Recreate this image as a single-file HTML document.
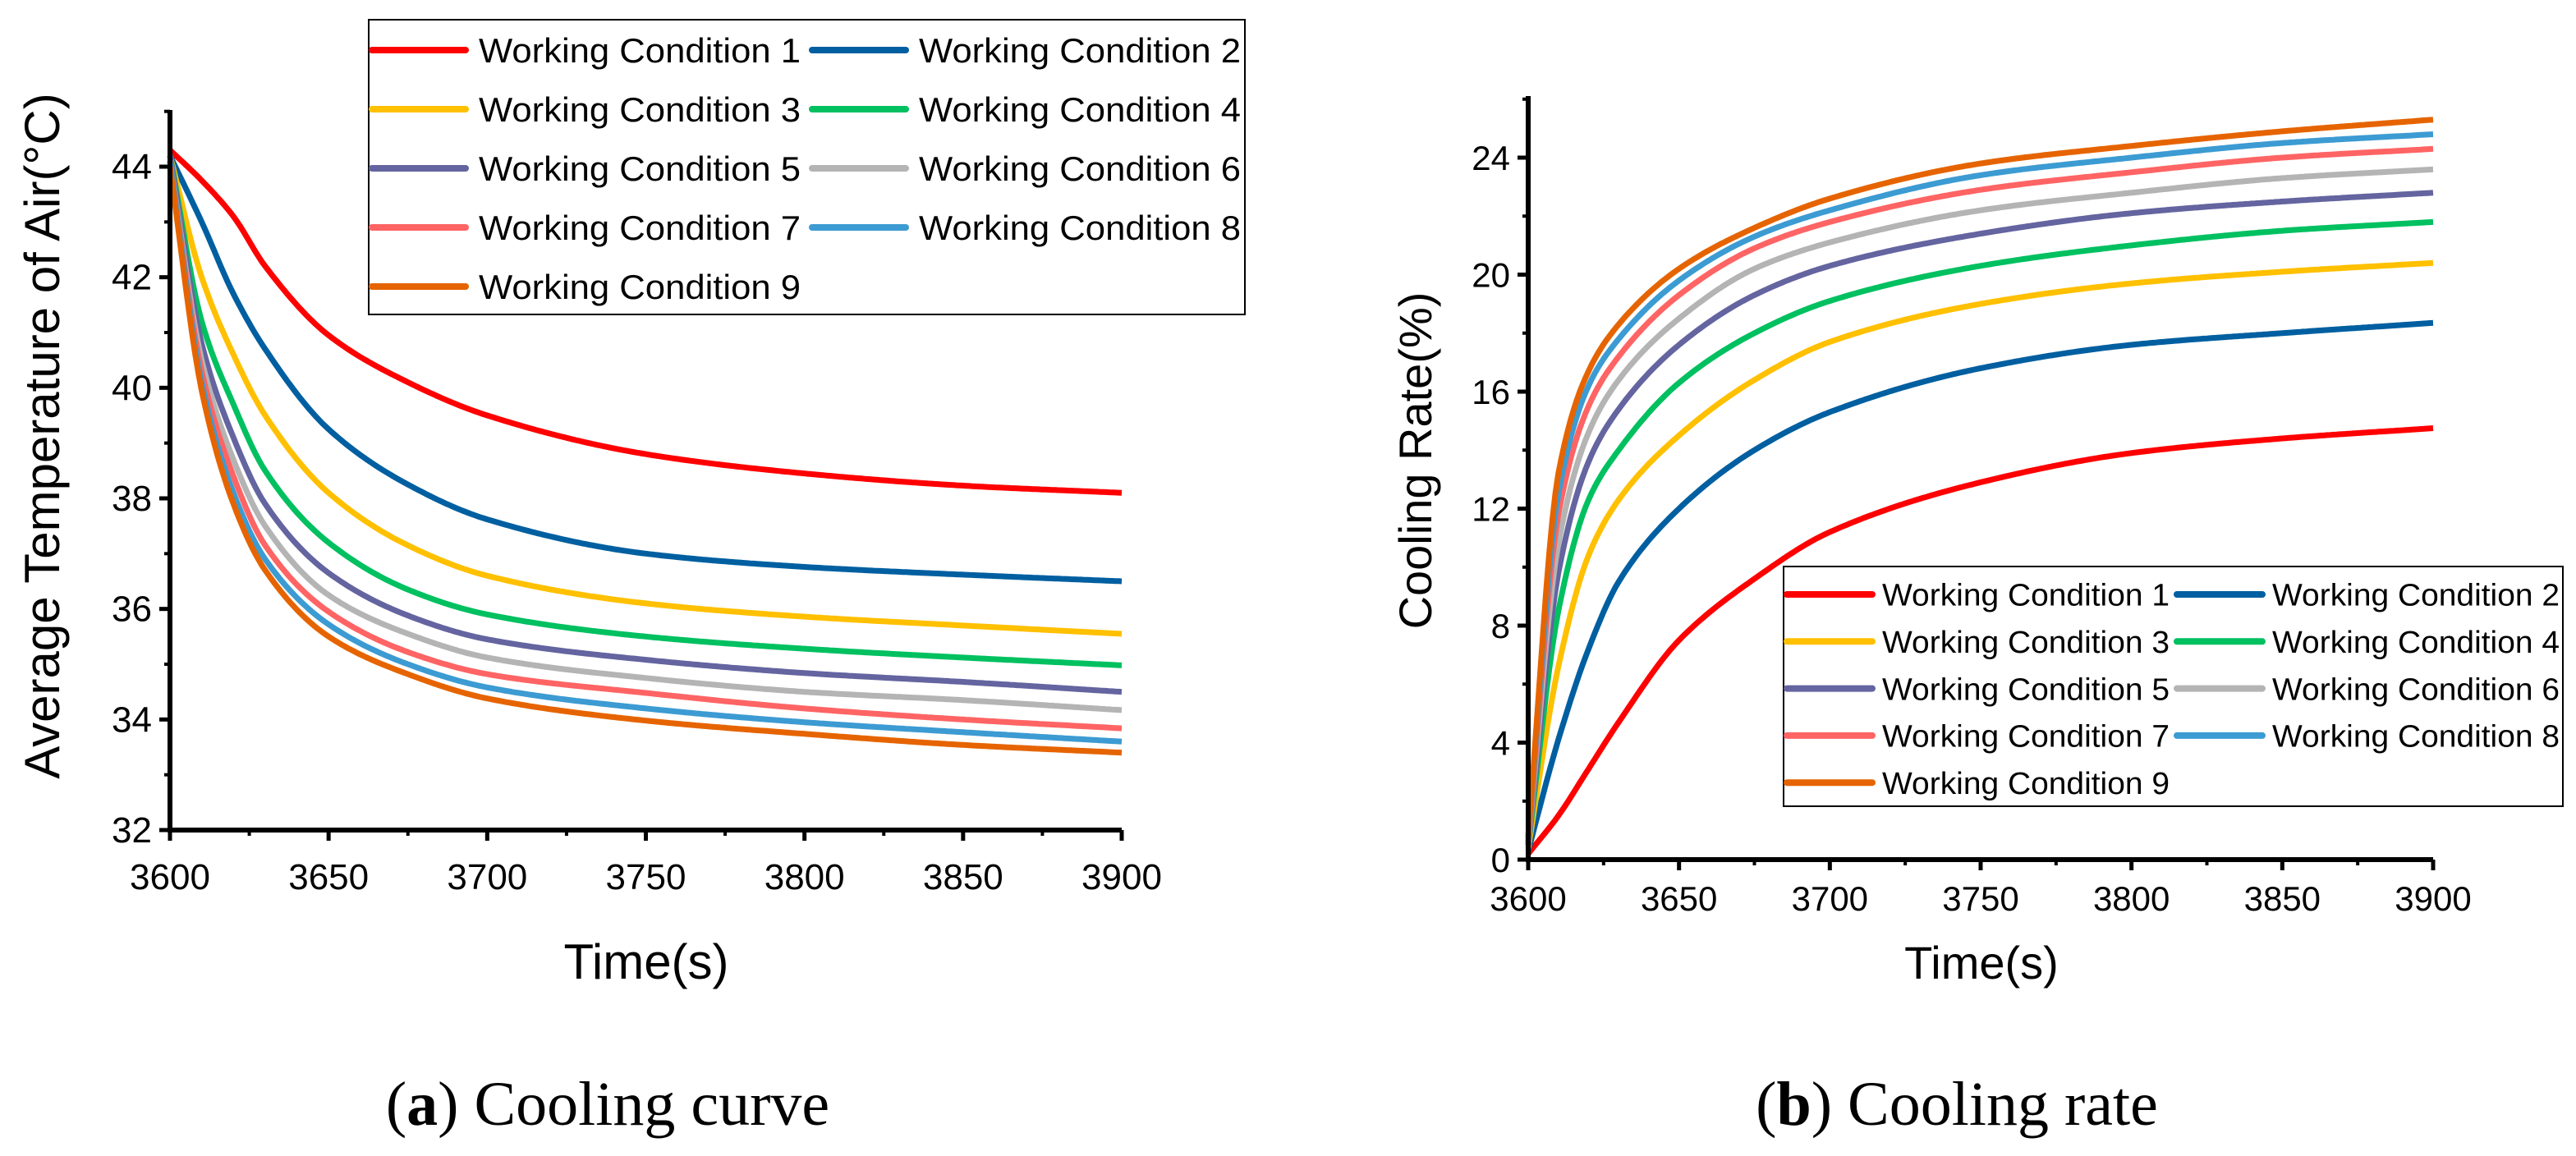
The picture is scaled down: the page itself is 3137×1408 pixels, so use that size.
<!DOCTYPE html>
<html><head><meta charset="utf-8"><style>
body{margin:0;background:#fff;overflow:hidden}
svg{display:block}
text{font-family:"Liberation Sans",sans-serif}
</style></head><body>
<svg id="svg" width="3137" height="1408" viewBox="0 0 3137 1408" xmlns="http://www.w3.org/2000/svg">
<g id="ga"></g>
<g id="gb"></g>
<text x="740" y="1370" font-size="76" text-anchor="middle" style="font-family:'Liberation Serif',serif">(<tspan font-weight="bold">a</tspan>) Cooling curve</text>
<text x="2383" y="1370" font-size="76" text-anchor="middle" style="font-family:'Liberation Serif',serif">(<tspan font-weight="bold">b</tspan>) Cooling rate</text>
</svg>
<script>
const times=[3600,3610,3620,3630,3650,3675,3700,3750,3800,3850,3900];
const seriesNames=["Working Condition 1","Working Condition 2","Working Condition 3","Working Condition 4","Working Condition 5","Working Condition 6","Working Condition 7","Working Condition 8","Working Condition 9"];
const colors=["#ff0000","#005fa0","#ffc000","#00c060","#6464a0","#b4b4b4","#ff6464","#3c9bd2","#e66400"];
const tempWC1=[44.3,43.75,43.1,42.2,40.95,40.1,39.5,38.8,38.45,38.23,38.1];
const tempWC2=[44.2,43.0,41.7,40.7,39.25,38.25,37.62,37.0,36.76,36.62,36.5];
const tempWC3=[44.2,42.0,40.6,39.5,38.1,37.15,36.6,36.1,35.86,35.7,35.55];
const tempWC4=[44.2,41.2,39.7,38.5,37.2,36.35,35.9,35.5,35.28,35.12,34.98];
const tempWC5=[44.2,40.8,39.1,37.9,36.65,35.88,35.45,35.08,34.84,34.68,34.5];
const tempWC6=[44.1,40.5,38.7,37.5,36.25,35.55,35.12,34.75,34.5,34.35,34.17];
const tempWC7=[44.1,40.3,38.4,37.15,35.95,35.22,34.82,34.48,34.2,34.0,33.84];
const tempWC8=[44.1,40.1,38.1,36.9,35.72,35.0,34.58,34.2,33.95,33.77,33.6];
const tempWC9=[44.0,39.95,37.9,36.7,35.5,34.82,34.38,33.98,33.74,33.54,33.4];
const rateWC1=[0.2,1.5,3.1,4.7,7.5,9.6,11.2,12.9,13.9,14.4,14.75];
const rateWC2=[0.3,4.1,7.2,9.5,12.0,14.0,15.3,16.8,17.6,18.0,18.35];
const rateWC3=[0.4,6.6,10.4,12.3,14.5,16.4,17.7,19.0,19.7,20.1,20.4];
const rateWC4=[0.5,8.5,12.3,14.0,16.3,18.0,19.1,20.3,21.0,21.5,21.8];
const rateWC5=[0.5,9.8,13.6,15.4,17.6,19.3,20.3,21.4,22.1,22.5,22.8];
const rateWC6=[0.6,10.8,14.6,16.4,18.5,20.2,21.1,22.2,22.8,23.3,23.6];
const rateWC7=[0.6,11.8,15.5,17.2,19.3,20.9,21.8,22.9,23.5,24.0,24.3];
const rateWC8=[0.7,12.5,16.2,17.8,19.8,21.3,22.2,23.4,24.0,24.5,24.8];
const rateWC9=[0.8,13.2,16.7,18.3,20.2,21.6,22.6,23.8,24.4,24.9,25.3];
const tempSeries=[tempWC1,tempWC2,tempWC3,tempWC4,tempWC5,tempWC6,tempWC7,tempWC8,tempWC9];
const rateSeries=[rateWC1,rateWC2,rateWC3,rateWC4,rateWC5,rateWC6,rateWC7,rateWC8,rateWC9];
const xTicks=[3600,3650,3700,3750,3800,3850,3900];
const tempTicks=[32,34,36,38,40,42,44];
const rateTicks=[0,4,8,12,16,20,24];

const NS="http://www.w3.org/2000/svg";
function mk(p,tag,attrs){const e=document.createElementNS(NS,tag);for(const k in attrs)e.setAttribute(k,attrs[k]);p.appendChild(e);return e;}
function monotone(xs,ys){
  const n=xs.length,d=[],m=new Array(n);
  for(let i=0;i<n-1;i++)d.push((ys[i+1]-ys[i])/(xs[i+1]-xs[i]));
  m[0]=d[0];m[n-1]=d[n-2];
  for(let i=1;i<n-1;i++){
    if(d[i-1]*d[i]<=0)m[i]=0;
    else{const h0=xs[i]-xs[i-1],h1=xs[i+1]-xs[i];const w1=2*h1+h0,w2=h1+2*h0;m[i]=(w1+w2)/(w1/d[i-1]+w2/d[i]);}
  }
  return x=>{let i=0;while(i<n-2&&x>xs[i+1])i++;const h=xs[i+1]-xs[i],t=(x-xs[i])/h;
    const h00=2*t*t*t-3*t*t+1,h10=t*t*t-2*t*t+t,h01=-2*t*t*t+3*t*t,h11=t*t*t-t*t;
    return h00*ys[i]+h10*h*m[i]+h01*ys[i+1]+h11*h*m[i+1];};
}

function chart(g,cfg){
  const X=v=>cfg.x0+(v-3600)/300*(cfg.x1-cfg.x0);
  const Y=v=>cfg.yb-(v-cfg.ymin)/(cfg.ymax-cfg.ymin)*(cfg.yb-cfg.yt);
  cfg.series.forEach((s,i)=>{
    const f=monotone(times,s);
    let d="";
    for(let t=3600;t<=3900;t+=1){d+=(t===3600?"M":"L")+X(t).toFixed(1)+","+Y(f(t)).toFixed(1);}
    const p=mk(g,"path",{d:d,fill:"none",stroke:colors[i],"stroke-width":7,"stroke-linejoin":"round"});
    
    
  });
  const ax=mk(g,"path",{d:`M${cfg.x0},${cfg.ytop} L${cfg.x0},${cfg.yb} L${cfg.x1},${cfg.yb}`,fill:"none",stroke:"#000","stroke-width":6});
  
  
  xTicks.forEach((t,i)=>{
    const x=X(t);
    mk(g,"line",{x1:x,y1:cfg.yb,x2:x,y2:cfg.yb+13,stroke:"#000","stroke-width":5});
    if(i<xTicks.length-1)mk(g,"line",{x1:X(t+25),y1:cfg.yb,x2:X(t+25),y2:cfg.yb+7,stroke:"#000","stroke-width":4});
    const tx=mk(g,"text",{x:x,y:cfg.yb+cfg.xlabOff,"font-size":cfg.tickFs,"text-anchor":"middle"});
    tx.textContent=t;
    
    
  });
  cfg.yticks.forEach((v,i)=>{
    const y=Y(v);
    mk(g,"line",{x1:cfg.x0-13,y1:y,x2:cfg.x0,y2:y,stroke:"#000","stroke-width":5});
    const step=cfg.yticks[1]-cfg.yticks[0];
    const m=Y(v+step/2);
    if(m>cfg.ytop)mk(g,"line",{x1:cfg.x0-7,y1:m,x2:cfg.x0,y2:m,stroke:"#000","stroke-width":4});
    const tx=mk(g,"text",{x:cfg.x0-22,y:y+15,"font-size":cfg.tickFs,"text-anchor":"end"});
    tx.textContent=v;
    
    
  });
  const xt=mk(g,"text",{x:cfg.xtX,y:cfg.xtY,"font-size":cfg.titleFs,"text-anchor":"middle"});
  xt.textContent="Time(s)";
  
  
  const yt=mk(g,"text",{x:0,y:0,"font-size":cfg.titleFs,"text-anchor":"middle",transform:`translate(${cfg.ytX},${cfg.ytY}) rotate(-90)`});
  yt.textContent=cfg.ytitle;
  
  
  const L=cfg.leg;
  const lg=mk(g,"g",{});
  
  
  mk(lg,"rect",{x:L.x,y:L.y,width:L.w,height:L.h,fill:"#fff",stroke:"#000","stroke-width":2});
  seriesNames.forEach((n,i)=>{
    const col=i%2,row=Math.floor(i/2);
    const lx=L.x+4+col*L.colW,ly=L.y+L.r0+row*L.rowH;
    const e=mk(lg,"g",{});
    
    
    mk(e,"line",{x1:lx,y1:ly,x2:lx+L.lineW,y2:ly,stroke:colors[i],"stroke-width":8,"stroke-linecap":"round"});
    const t=mk(e,"text",{x:lx+L.lineW+L.gap,y:ly+L.fs*0.36,"font-size":L.fs,textLength:L.tl,lengthAdjust:"spacingAndGlyphs"});
    t.textContent=n;
  });
}
chart(document.getElementById("ga"),{x0:207,x1:1366,yb:1011,yt:203,ymin:32,ymax:44,ytop:134,series:tempSeries,yticks:tempTicks,
  tickFs:44,xlabOff:72,titleFs:60,xtX:787,xtY:1192,ytX:72,ytY:531,ytitle:"Average Temperature of Air(°C)",
  leg:{x:449,y:24,w:1067,h:359,r0:37,rowH:72,colW:536,lineW:114,gap:16,fs:42,tl:392}});
chart(document.getElementById("gb"),{x0:1861,x1:2963,yb:1047,yt:192,ymin:0,ymax:24,ytop:117,series:rateSeries,yticks:rateTicks,
  tickFs:42,xlabOff:62,titleFs:56,xtX:2413,xtY:1192,ytX:1743,ytY:561,ytitle:"Cooling Rate(%)",
  leg:{x:2172,y:690,w:949,h:292,r0:34,rowH:57.3,colW:475,lineW:104,gap:12,fs:38,tl:350}});
</script>
</body></html>
